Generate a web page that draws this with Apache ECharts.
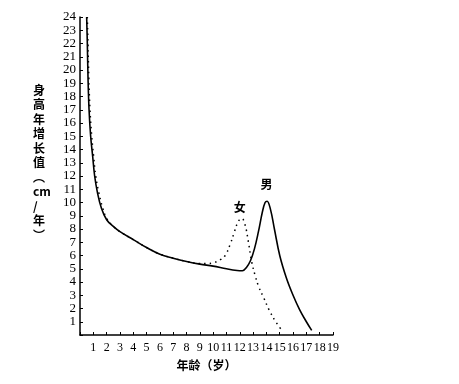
<!DOCTYPE html>
<html><head><meta charset="utf-8">
<script src="https://cdn.jsdelivr.net/npm/echarts@6/dist/echarts.min.js"></script>
<style>html,body{margin:0;padding:0;background:#fff}#c{width:459px;height:384px}</style>
</head><body><div id="c"></div>
<script>
const xTicks = [1,2,3,4,5,6,7,8,9,10,11,12,13,14,15,16,17,18,19];
const yTicks = [1,2,3,4,5,6,7,8,9,10,11,12,13,14,15,16,17,18,19,20,21,22,23,24];
const maleAge = [0.5,0.55,0.6,0.68,0.8,0.95,1.1,1.3,1.6,2,2.5,3,4,5,6,7,8,9,10,11,11.8,12.2,12.5,12.8,13.1,13.4,13.7,13.9,14.05,14.3,14.6,15,15.5,16,16.5,17,17.4];
const maleVal = [24,22,19.5,17,15,13.5,12,10.8,9.6,8.7,8.2,7.8,7.2,6.6,6.1,5.8,5.55,5.35,5.2,5.0,4.87,4.85,5.1,5.6,6.5,7.8,9.3,10.0,10.1,9.5,8.0,6.0,4.3,3.0,1.9,1.0,0.35];
const femaleAge = [0.55,0.6,0.66,0.75,0.88,1.02,1.18,1.4,1.7,2,2.5,3,4,5,6,7,8,9,9.5,10,10.5,10.9,11.3,11.6,11.9,12.15,12.4,12.65,12.9,13.15,13.4,13.8,14.2,14.7,15.2];
const femaleVal = [24,22,19.5,17,15,13.5,12,10.8,9.6,8.8,8.2,7.8,7.2,6.6,6.1,5.8,5.55,5.4,5.4,5.45,5.66,6.0,6.9,7.8,8.6,8.8,8.3,7.0,5.5,4.5,3.7,2.8,1.9,1.0,0.3];
const maleLabel = '男', femaleLabel = '女';
const yName = ['身','高','年','增','长','值','︵','cm','/','年','︶'];
const xName = '年龄（岁）';

const serif = '"Liberation Serif","DejaVu Serif",serif';
const cjk = '"Noto Sans CJK SC",sans-serif';
const chart = echarts.init(document.getElementById('c'));
chart.setOption({
  animation:false,
  backgroundColor:'#fff',
  grid:{left:80,right:126,top:17,bottom:49,containLabel:false},
  xAxis:{type:'value',min:0,max:19,interval:1,
    axisLine:{lineStyle:{color:'#000',width:1.5}},
    axisTick:{inside:true,length:3,lineStyle:{color:'#000'}},
    splitLine:{show:false},
    axisLabel:{color:'#000',fontFamily:serif,fontSize:12,margin:7,
      formatter:v=>xTicks.includes(v)?String(v):''},
    name:xName,nameLocation:'middle',nameGap:24,
    nameTextStyle:{color:'#000',fontFamily:cjk,fontSize:12,fontWeight:'bold'}},
  yAxis:{type:'value',min:0,max:24,interval:1,
    axisLine:{show:true,lineStyle:{color:'#000',width:1.5}},
    axisTick:{show:true,inside:true,length:3,lineStyle:{color:'#000'}},
    splitLine:{show:false},
    axisLabel:{color:'#000',fontFamily:serif,fontSize:13,margin:4,
      formatter:v=>yTicks.includes(v)?String(v):''}},
  graphic:[{type:'text',left:33,top:83,
    style:{text:yName.join('\n'),fill:'#000',font:'bold 12px "Noto Sans CJK SC"',lineHeight:14.5,align:'center'}}],
  series:[
    {type:'line',name:maleLabel,data:maleAge.map((a,i)=>[a,maleVal[i]]),
     smooth:0.4,symbol:'none',lineStyle:{color:'#000',width:1.6},
     markPoint:{symbol:'circle',symbolSize:0,data:[{coord:[14,11.4],value:maleLabel}],
       label:{show:true,formatter:maleLabel,color:'#000',fontFamily:cjk,fontSize:12,fontWeight:'bold'}}},
    {type:'line',name:femaleLabel,data:femaleAge.map((a,i)=>[a,femaleVal[i]]),
     smooth:0.4,symbol:'none',lineStyle:{color:'#000',width:1.5,type:[1.5,4]},
     markPoint:{symbol:'circle',symbolSize:0,data:[{coord:[12.0,9.6],value:femaleLabel}],
       label:{show:true,formatter:femaleLabel,color:'#000',fontFamily:cjk,fontSize:12,fontWeight:'bold'}}}
  ]
});
</script></body></html>
